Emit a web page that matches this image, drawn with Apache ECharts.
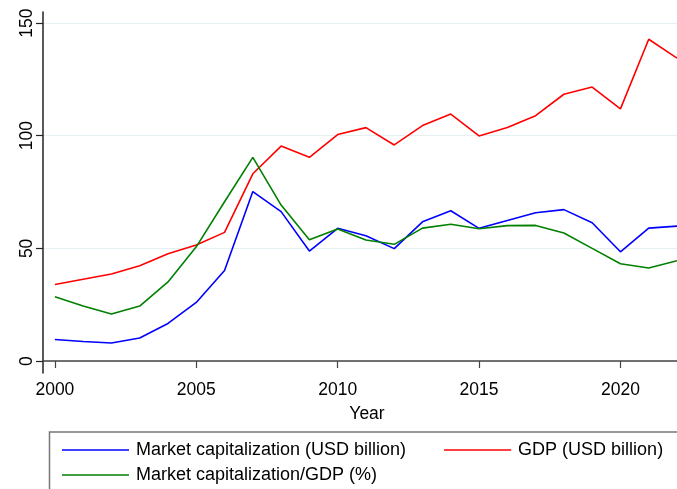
<!DOCTYPE html>
<html>
<head>
<meta charset="utf-8">
<script src="https://cdn.jsdelivr.net/npm/echarts@6/dist/echarts.min.js"></script>
<style>
  html, body { margin: 0; padding: 0; background: #fff; }
  #main { width: 677px; height: 489px; }
</style>
</head>
<body>
<div id="main"></div>
<script>
var years = [2000, 2001, 2002, 2003, 2004, 2005, 2006, 2007, 2008, 2009, 2010, 2011,
    2012, 2013, 2014, 2015, 2016, 2017, 2018, 2019, 2020, 2021, 2022];
var marketCap = [9.6, 8.7, 8.0, 10.2, 16.7, 26.0, 40.2, 75.2, 66.3, 48.8, 58.9, 55.6,
    49.9, 61.8, 66.7, 58.9, 62.4, 65.8, 67.2, 61.4, 48.5, 59.0, 59.9];
var gdp = [34.0, 36.3, 38.6, 42.3, 47.6, 51.5, 57.1, 83.1, 95.4, 90.4, 100.5, 103.6,
    95.9, 104.5, 109.6, 99.9, 103.6, 108.9, 118.4, 121.6, 111.9, 142.8, 134.4];
var ratio = [28.5, 24.4, 20.9, 24.4, 35.1, 50.7, 70.7, 90.4, 69.2, 53.8, 58.6, 53.7,
    51.8, 59.0, 60.7, 58.7, 60.1, 60.2, 56.8, 50.0, 43.2, 41.3, 44.5];
var xTicks = [2000, 2005, 2010, 2015, 2020];
var yTicks = [0, 50, 100, 150];
var names = ['Market capitalization (USD billion)', 'GDP (USD billion)', 'Market capitalization/GDP (%)'];

function pairs(vals) {
    return years.map(function (y, i) {
        return [y, vals[i]];
    });
}

var font = 'Liberation Sans, Arial, Helvetica, sans-serif';
var myChart = echarts.init(document.getElementById('main'));

function makeSeries(name, vals, color) {
    return {
        name: name,
        type: 'line',
        data: pairs(vals),
        symbol: 'none',
        lineStyle: { color: color, width: 1.6 },
        itemStyle: { color: color },
        animation: false
    };
}

var legendText = { fontFamily: font, fontSize: 18, color: '#000', padding: [0, 0, 0, 2] };

var option = {
    backgroundColor: '#fff',
    grid: { left: 43, top: 12, right: 0, bottom: 116, containLabel: false },
    xAxis: {
        type: 'value',
        min: 1999.58,
        max: 2022,
        name: 'Year',
        nameLocation: 'middle',
        nameGap: 32,
        nameTextStyle: { fontFamily: font, fontSize: 17.5, color: '#000', padding: [0, 0, 0, 14] },
        axisLine: { lineStyle: { color: '#444', width: 1.5 } },
        axisTick: { show: true, length: 7, customValues: xTicks, lineStyle: { color: '#444', width: 1.2 } },
        axisLabel: {
            customValues: xTicks, fontFamily: font, fontSize: 17.5, color: '#000', margin: 8,
            formatter: function (v) { return String(v); }
        },
        splitLine: { show: false }
    },
    yAxis: {
        type: 'value',
        min: -5.3,
        max: 154.9,
        axisLine: { show: true, lineStyle: { color: '#222', width: 1.5 } },
        axisTick: { show: true, length: 7, customValues: yTicks, lineStyle: { color: '#222', width: 1.2 } },
        axisLabel: { customValues: yTicks, rotate: 90, fontFamily: font, fontSize: 17.5, color: '#000', margin: 7 },
        splitLine: { show: true, lineStyle: { color: '#e6eff1', width: 1.2 } }
    },
    legend: [{
        data: [names[0], names[1]],
        left: 57,
        top: 436,
        icon: 'rect',
        itemWidth: 67,
        itemHeight: 1.6,
        itemGap: 38,
        textStyle: legendText
    }, {
        data: [names[2]],
        left: 57,
        top: 461,
        icon: 'rect',
        itemWidth: 67,
        itemHeight: 1.6,
        textStyle: legendText
    }],
    graphic: [{
        type: 'rect',
        shape: { x: 49.5, y: 432, width: 700, height: 100 },
        style: { fill: 'none', stroke: '#777', lineWidth: 1.5 },
        silent: true
    }],
    series: [
        makeSeries(names[0], marketCap, '#0000ff'),
        makeSeries(names[1], gdp, '#ff0000'),
        makeSeries(names[2], ratio, '#008000')
    ]
};
myChart.setOption(option);
</script>
</body>
</html>
